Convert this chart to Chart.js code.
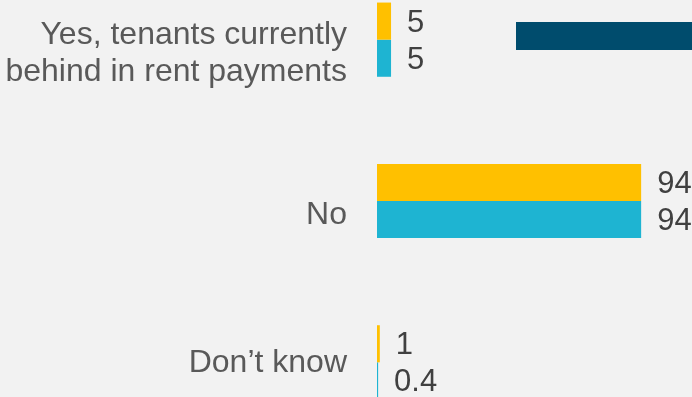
<!DOCTYPE html>
<html>
<head>
<meta charset="utf-8">
<script src="https://cdn.jsdelivr.net/npm/chart.js@4.4.1/dist/chart.umd.min.js"></script>
<style>
    html, body {
        margin: 0;
        padding: 0;
        background: #f2f2f2;
    }
    #wrap {
        position: relative;
        width: 692px;
        height: 397px;
        overflow: hidden;
        background: #f2f2f2;
    }
    #holder {
        position: absolute;
        left: 0;
        top: -41px;
        width: 692px;
        height: 484px;
    }
    #key {
        position: absolute;
        left: 516px;
        top: 22px;
        width: 176px;
        height: 28px;
        background: #004c6d;
    }
</style>
</head>
<body>
<div id="wrap">
    <div id="holder"><canvas id="chart"></canvas></div>
    <div id="key"></div>
</div>
<script>
// last label carries an empty second line so it sits level with its bars
const categories = [['Yes, tenants currently', 'behind in rent payments'], 'No', ['Don\u2019t know', '']];
const earlierWave = [5, 94, 1];
const laterWave = [5, 94, 0.4];
const xTicks = [0, 100];

const FONT = '"Liberation Sans", Arial, sans-serif';

// writes each bar's value just past its end
const valueLabels = {
    id: 'valueLabels',
    afterDatasetsDraw(chart) {
        const ctx = chart.ctx;
        ctx.save();
        ctx.font = '31px ' + FONT;
        ctx.fillStyle = '#404040';
        ctx.textAlign = 'left';
        ctx.textBaseline = 'middle';
        chart.data.datasets.forEach((ds, i) => {
            chart.getDatasetMeta(i).data.forEach((bar, j) => {
                ctx.fillText(String(ds.data[j]), bar.x + 16, bar.y + 2);
            });
        });
        ctx.restore();
    }
};

new Chart(document.getElementById('chart'), {
    type: 'bar',
    data: {
        labels: categories,
        datasets: [
            {
                label: 'Earlier',
                data: earlierWave,
                backgroundColor: '#ffc000',
                borderWidth: 0
            },
            {
                label: 'Later',
                data: laterWave,
                backgroundColor: '#1eb4d2',
                borderWidth: 0
            }
        ]
    },
    options: {
        indexAxis: 'y',
        responsive: true,
        maintainAspectRatio: false,
        animation: false,
        layout: {
            padding: { left: 0, right: 34, top: 0, bottom: 0 }
        },
        datasets: {
            bar: {
                categoryPercentage: 0.46,
                barPercentage: 1
            }
        },
        plugins: {
            legend: { display: false },
            tooltip: { enabled: false }
        },
        scales: {
            x: {
                display: false,
                min: xTicks[0],
                max: xTicks[1]
            },
            y: {
                grid: { display: false, drawTicks: false },
                border: { display: false },
                afterFit(scale) {
                    // fixed label column, no extra room above/below for the labels
                    scale.width = 377;
                    scale.paddingTop = 0;
                    scale.paddingBottom = 0;
                },
                ticks: {
                    padding: 30,
                    labelOffset: 14,
                    color: '#595959',
                    font: (c) => ({
                        family: FONT,
                        size: 32,
                        lineHeight: c.index === 2 ? 0.85 : 1.16
                    })
                }
            }
        }
    },
    plugins: [valueLabels]
});
</script>
</body>
</html>
